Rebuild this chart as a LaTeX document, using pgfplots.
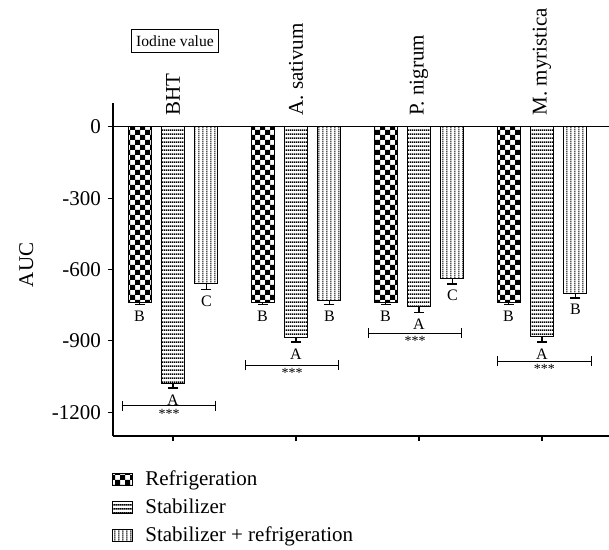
\documentclass[border=0pt]{standalone}
\usepackage{fontspec}
\setmainfont{Liberation Serif}
\usepackage{pgfplots}
\pgfplotsset{compat=1.18}
\usetikzlibrary{patterns,arrows.meta}

\pgfdeclarepatternformonly{mycheck}{\pgfqpoint{-0.1pt}{-0.1pt}}{\pgfqpoint{5.1pt}{5.1pt}}{\pgfqpoint{5pt}{5pt}}{%
  \pgfpathrectangle{\pgfpointorigin}{\pgfqpoint{2.5pt}{2.5pt}}%
  \pgfpathrectangle{\pgfqpoint{2.5pt}{2.5pt}}{\pgfqpoint{2.5pt}{2.5pt}}%
  \pgfusepath{fill}}
\pgfdeclarepatternformonly{myhlines}{\pgfqpoint{0pt}{0pt}}{\pgfqpoint{1pt}{2.2pt}}{\pgfqpoint{1pt}{2.2pt}}{%
  \pgfpathrectangle{\pgfqpoint{-0.1pt}{0.7pt}}{\pgfqpoint{1.2pt}{0.85pt}}%
  \pgfusepath{fill}}
\pgfdeclarepatternformonly{myvlines}{\pgfqpoint{0pt}{0pt}}{\pgfqpoint{2.1pt}{1pt}}{\pgfqpoint{2.1pt}{1pt}}{%
  \pgfpathrectangle{\pgfqpoint{0.8pt}{-0.1pt}}{\pgfqpoint{0.55pt}{1.2pt}}%
  \pgfusepath{fill}}

\pgfplotsset{
  mybar/.style={ybar, bar width=0.187, bar shift=0pt, draw=black, line width=0.5pt,
    error bars/y dir=minus, error bars/y explicit,
    error bars/error mark=-,
    error bars/error bar style={line width=0.8pt, solid, black},
    error bars/error mark options={rotate=90, black, line width=0.8pt, mark size=2.5pt}},
  myleg/.style={legend image code/.code={%
    \draw[#1, draw=black, line width=0.5pt] (0pt,-3pt) rectangle (10pt,3pt);}},
}
\tikzset{
  lett/.style={anchor=north, inner sep=0pt, font=\fontsize{8}{9}\selectfont, yshift=-3pt},
  cat/.style={rotate=90, anchor=west, inner sep=0pt, font=\fontsize{10.5}{12}\selectfont},
  brk/.style={line width=0.6pt, {Bar[width=5pt]}-{Bar[width=5pt]}},
  star/.style={anchor=north, inner sep=0pt, font=\fontsize{7}{8}\selectfont, yshift=-1.5pt},
}

\begin{document}
\begin{tikzpicture}
\begin{axis}[
  at={(0pt,0pt)}, anchor=south west,
  scale only axis, width=248pt, height=166.5pt,
  xmin=-0.488, xmax=3.545, ymin=-1300, ymax=100,
  axis x line=bottom, axis y line=left,
  axis line style={-, line width=0.6pt},
  xtick={0,1,2,3}, xticklabels={},
  ytick={-1200,-900,-600,-300,0},
  tick align=outside, tick style={black, line width=0.6pt},
  major tick length=2.5pt,
  every tick label/.append style={font=\fontsize{10.5}{12}\selectfont},
  /pgf/number format/assume math mode=true,
  /pgf/number format/1000 sep={},
  ylabel={AUC},
  ylabel style={font=\fontsize{10.5}{12}\selectfont, at={(axis description cs:-0.175,0.514)}, anchor=center},
  clip=false,
  legend style={at={(axis description cs:0,0)}, anchor=north west, xshift=-0.5pt, yshift=-17pt,
    draw=none, fill=none, inner sep=0pt,
    font=\fontsize{10.5}{12}\selectfont, row sep=5.2pt,
    nodes={inner xsep=0pt, inner ysep=0pt},
    /tikz/every odd column/.style={column sep=6pt}},
  legend cell align=left,
]
\addplot[mybar, myleg, pattern=mycheck] coordinates {
  (-0.272,-738) +- (0,10)
  (0.728,-738) +- (0,10)
  (1.728,-738) +- (0,10)
  (2.728,-738) +- (0,10)
};
\addlegendentry{Refrigeration}
\addplot[mybar, myleg, pattern=myhlines] coordinates {
  (0,-1078) +- (0,21)
  (1,-885) +- (0,21)
  (2,-755) +- (0,25)
  (3,-880) +- (0,25)
};
\addlegendentry{Stabilizer}
\addplot[mybar, myleg, pattern=myvlines] coordinates {
  (0.272,-658) +- (0,26)
  (1.272,-730) +- (0,17)
  (2.272,-637) +- (0,23)
  (3.272,-700) +- (0,20)
};
\addlegendentry{Stabilizer + refrigeration}

% zero line
\draw[line width=0.6pt] (axis cs:-0.488,0) -- (axis cs:3.545,0);

% category labels
\node[cat] at (axis cs:0,46) {BHT};
\node[cat] at (axis cs:1,46) {A. sativum};
\node[cat] at (axis cs:2,46) {P. nigrum};
\node[cat] at (axis cs:3,46) {M. myristica};

% title box
\node[draw, line width=0.6pt, font=\fontsize{7.8}{9}\selectfont, inner xsep=2.2pt, inner ysep=3pt] at (axis cs:0.016,361) {Iodine value};

% letters
\node[lett] at (axis cs:-0.272,-748) {B};
\node[lett] at (axis cs:0,-1099) {A};
\node[lett] at (axis cs:0.272,-684) {C};
\node[lett] at (axis cs:0.728,-748) {B};
\node[lett] at (axis cs:1,-906) {A};
\node[lett] at (axis cs:1.272,-747) {B};
\node[lett] at (axis cs:1.728,-748) {B};
\node[lett] at (axis cs:2,-780) {A};
\node[lett] at (axis cs:2.272,-660) {C};
\node[lett] at (axis cs:2.728,-748) {B};
\node[lett] at (axis cs:3,-905) {A};
\node[lett] at (axis cs:3.272,-720) {B};

% significance brackets
\draw[brk] (axis cs:-0.415,-1172) -- (axis cs:0.35,-1172);
\node[star] at (axis cs:-0.032,-1172) {***};
\draw[brk] (axis cs:0.585,-1003) -- (axis cs:1.35,-1003);
\node[star] at (axis cs:0.968,-1003) {***};
\draw[brk] (axis cs:1.585,-868) -- (axis cs:2.35,-868);
\node[star] at (axis cs:1.968,-868) {***};
\draw[brk] (axis cs:2.634,-986) -- (axis cs:3.407,-986);
\node[star] at (axis cs:3.02,-986) {***};
\end{axis}
\pgfresetboundingbox
\path[use as bounding box] (-56.5pt,-57pt) rectangle (248pt,218pt);
\end{tikzpicture}
\end{document}
